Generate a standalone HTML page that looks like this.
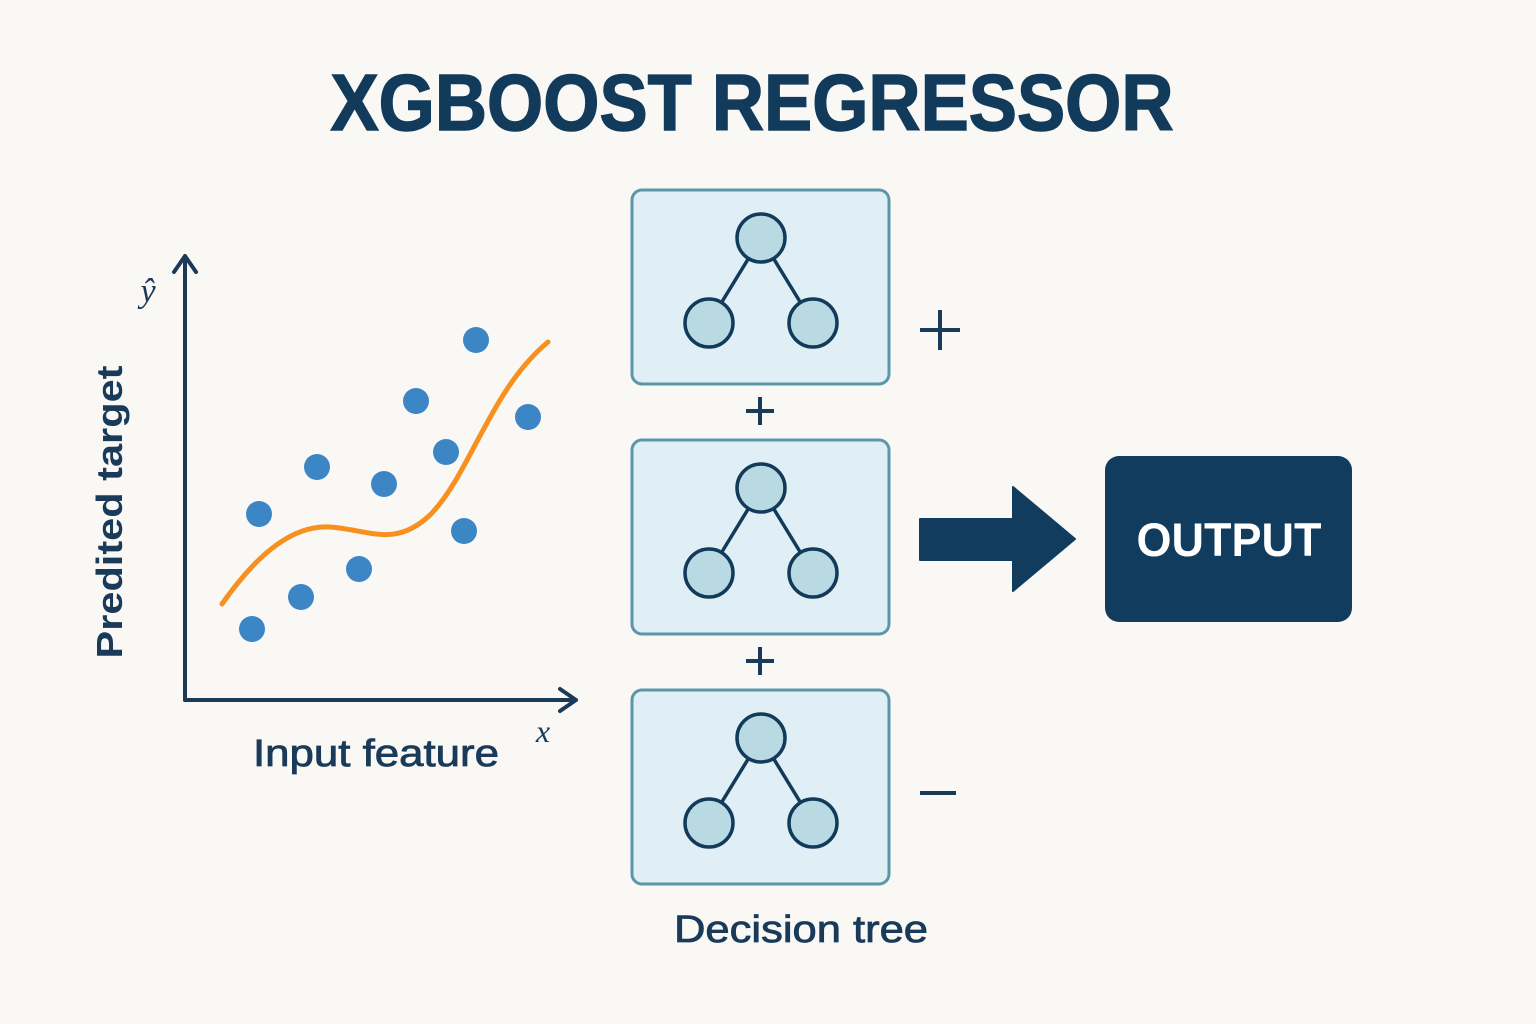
<!DOCTYPE html>
<html><head><meta charset="utf-8"><style>html,body{margin:0;padding:0;background:#f9f8f5}svg{display:block}</style></head>
<body>
<svg width="1536" height="1024" viewBox="0 0 1536 1024" xmlns="http://www.w3.org/2000/svg" font-family="Liberation Sans, sans-serif">
<rect width="1536" height="1024" fill="#f9f8f5"/>
<text x="752" y="130" text-anchor="middle" font-size="80" font-weight="bold" fill="#123a5a" stroke="#123a5a" stroke-width="1.5" textLength="843" lengthAdjust="spacingAndGlyphs">XGBOOST REGRESSOR</text>
<g stroke="#1a3a5a" stroke-width="4" fill="none" stroke-linecap="round" stroke-linejoin="round">
<path d="M185,700 V256 M174,272 L185,256 L196,272"/>
<path d="M185,700 H576 M560,689 L576,700 L560,711"/>
</g>
<text x="148" y="302" text-anchor="middle" font-family="Liberation Serif, serif" font-style="italic" font-size="34" fill="#1a3a5a">ŷ</text>
<text x="543" y="742" text-anchor="middle" font-family="Liberation Serif, serif" font-style="italic" font-size="32" fill="#1a3a5a">x</text>
<text transform="translate(122,512) rotate(-90)" text-anchor="middle" font-size="36" font-weight="bold" fill="#1a3a5a" textLength="293" lengthAdjust="spacingAndGlyphs">Predited target</text>
<text x="376" y="766" text-anchor="middle" font-size="38" fill="#1a3a5a" stroke="#1a3a5a" stroke-width="0.8" textLength="246" lengthAdjust="spacingAndGlyphs">Input feature</text>
<g fill="#3d86c6">
<circle cx="259" cy="514" r="13"/><circle cx="317" cy="467" r="13"/><circle cx="384" cy="484" r="13"/><circle cx="416" cy="401" r="13"/><circle cx="446" cy="452" r="13"/><circle cx="476" cy="340" r="13"/><circle cx="528" cy="417" r="13"/><circle cx="464" cy="531" r="13"/><circle cx="359" cy="569" r="13"/><circle cx="301" cy="597" r="13"/><circle cx="252" cy="629" r="13"/>
</g>
<path d="M222,604 C260,550 295,525 330,527 C370,530 395,548 430,515 C470,475 490,390 548,342" stroke="#f7901e" stroke-width="5" fill="none" stroke-linecap="round"/>
<g id="b1">
<rect x="632" y="190" width="257" height="194" rx="10" fill="#e0eff5" stroke="#5a98a8" stroke-width="3"/>
<g stroke="#123a5a" stroke-width="3.5" fill="#b9d9e3">
<path d="M761,238 L709,323 M761,238 L813,323"/>
<circle cx="761" cy="238" r="24"/><circle cx="709" cy="323" r="24"/><circle cx="813" cy="323" r="24"/>
</g>
</g>
<use href="#b1" transform="translate(0,250)"/>
<use href="#b1" transform="translate(0,500)"/>
<g stroke="#1a3a5a" stroke-width="4">
<path d="M746,411 H774 M760,397 V425"/>
<path d="M746,661 H774 M760,647 V675"/>
<path d="M920,330 H960 M940,310 V350"/>
<path d="M920,793 H956"/>
</g>
<path d="M920,519 H1013 V487 L1075,539 L1013,591 V560 H920 Z" fill="#123c5e" stroke="#123c5e" stroke-width="2" stroke-linejoin="round"/>
<rect x="1105" y="456" width="247" height="166" rx="14" fill="#123c5e"/>
<text x="1229" y="556" text-anchor="middle" font-size="47" font-weight="bold" fill="#fff" textLength="185" lengthAdjust="spacingAndGlyphs">OUTPUT</text>
<text x="801" y="942" text-anchor="middle" font-size="38" fill="#1a3a5a" stroke="#1a3a5a" stroke-width="0.8" textLength="254" lengthAdjust="spacingAndGlyphs">Decision tree</text>
</svg>
</body></html>
